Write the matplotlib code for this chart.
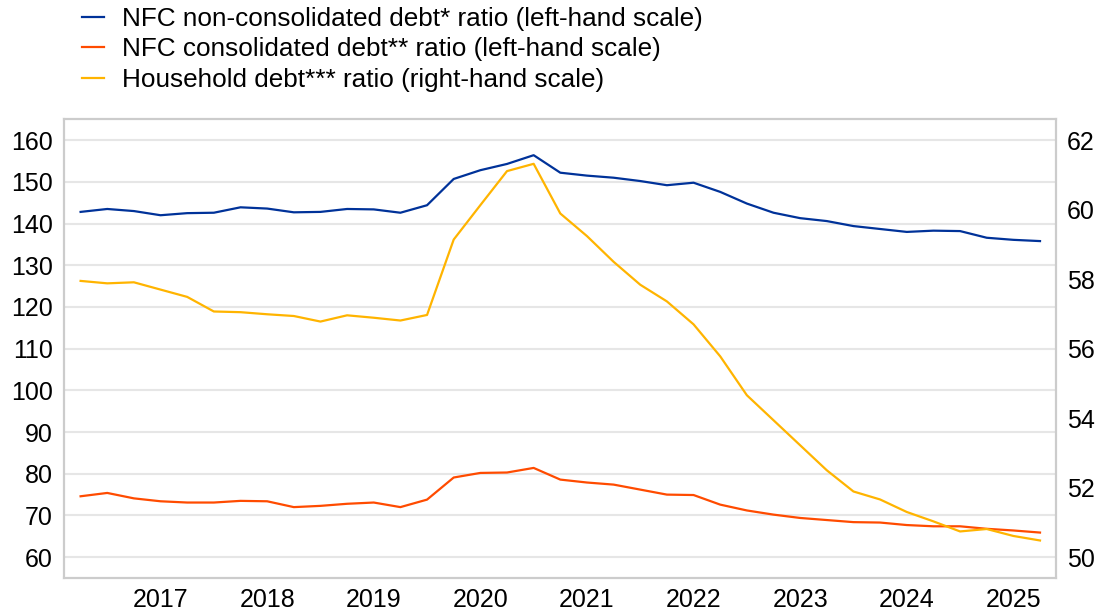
import matplotlib
matplotlib.use("Agg")
import matplotlib.pyplot as plt
import numpy as np

plt.rcParams['font.family'] = ['Liberation Sans', 'DejaVu Sans']

# Quarterly observations, 2016 Q2 - 2025 Q2
quarters = ["2016Q2","2016Q3","2016Q4",
            "2017Q1","2017Q2","2017Q3","2017Q4",
            "2018Q1","2018Q2","2018Q3","2018Q4",
            "2019Q1","2019Q2","2019Q3","2019Q4",
            "2020Q1","2020Q2","2020Q3","2020Q4",
            "2021Q1","2021Q2","2021Q3","2021Q4",
            "2022Q1","2022Q2","2022Q3","2022Q4",
            "2023Q1","2023Q2","2023Q3","2023Q4",
            "2024Q1","2024Q2","2024Q3","2024Q4",
            "2025Q1","2025Q2"]

nfc_nonconsolidated = [142.8, 143.5, 143.0, 142.0, 142.5, 142.6, 143.9, 143.6, 142.7,
                       142.8, 143.5, 143.4, 142.6, 144.4, 150.7, 152.8, 154.3, 156.4,
                       152.2, 151.5, 151.0, 150.2, 149.2, 149.8, 147.6, 144.8, 142.6,
                       141.3, 140.6, 139.4, 138.7, 138.0, 138.3, 138.2, 136.6, 136.1, 135.8]

nfc_consolidated = [74.6, 75.4, 74.1, 73.4, 73.1, 73.1, 73.5, 73.4, 72.0, 72.3, 72.8,
                    73.1, 72.0, 73.8, 79.1, 80.2, 80.3, 81.4, 78.6, 77.9, 77.4, 76.2,
                    75.0, 74.9, 72.6, 71.2, 70.2, 69.4, 68.9, 68.4, 68.3, 67.7, 67.4,
                    67.4, 66.8, 66.4, 65.9]

household = [57.95, 57.88, 57.91, 57.70, 57.49, 57.07, 57.05, 56.99, 56.94, 56.78,
             56.96, 56.89, 56.81, 56.97, 59.14, 60.13, 61.11, 61.32, 59.89, 59.24,
             58.50, 57.84, 57.36, 56.70, 55.78, 54.66, 53.94, 53.22, 52.50, 51.89,
             51.66, 51.30, 51.03, 50.74, 50.81, 50.61, 50.48]

year_labels = ["2017", "2018", "2019", "2020", "2021", "2022", "2023", "2024", "2025"]
left_ticks = [60, 70, 80, 90, 100, 110, 120, 130, 140, 150, 160]
right_ticks = [50, 52, 54, 56, 58, 60, 62]

labels = ["NFC non-consolidated debt* ratio (left-hand scale)",
          "NFC consolidated debt** ratio (left-hand scale)",
          "Household debt*** ratio (right-hand scale)"]

BLUE = "#003299"
ORANGE = "#ff4b00"
YELLOW = "#ffb400"
GRID = "#e6e6e6"
FRAME = "#cccccc"
FS = 18
LFS = 18.8

x = np.arange(len(quarters))
tick_pos = [quarters.index(y + "Q1") for y in year_labels]

fig = plt.figure(figsize=(11, 6.11), dpi=100)
ax = fig.add_axes([0.058, 0.054, 0.902, 0.7507])
ax2 = ax.twinx()

l1, = ax.plot(x, nfc_nonconsolidated, color=BLUE, lw=1.6, label=labels[0])
l2, = ax.plot(x, nfc_consolidated, color=ORANGE, lw=1.6, label=labels[1])
l3, = ax2.plot(x, household, color=YELLOW, lw=1.6, label=labels[2])

ax.set_xlim(-0.63, 36.6)
ax.set_ylim(55, 165)
ax2.set_ylim(49.4, 62.6)

ax.set_yticks(left_ticks)
ax2.set_yticks(right_ticks)
ax.set_xticks(tick_pos)
ax.set_xticklabels(year_labels)

ax.grid(axis='y', color=GRID, lw=1.5)
ax.set_axisbelow(True)
ax2.grid(False)

for a in (ax, ax2):
    for s in a.spines.values():
        s.set_color(FRAME)
        s.set_linewidth(1.5)
    a.tick_params(length=0, labelsize=FS, colors="#000000")
ax.tick_params(axis='y', pad=8)
ax2.tick_params(axis='y', pad=8)
ax.tick_params(axis='x', pad=7)

fig.legend(handles=[l1, l2, l3], labels=labels, loc='upper left',
           bbox_to_anchor=(0.0745, 0.989), frameon=False, fontsize=LFS,
           handlelength=0.86, handletextpad=0.66, labelspacing=0.25,
           borderpad=0, borderaxespad=0)

fig.savefig("out.png", dpi=100)
